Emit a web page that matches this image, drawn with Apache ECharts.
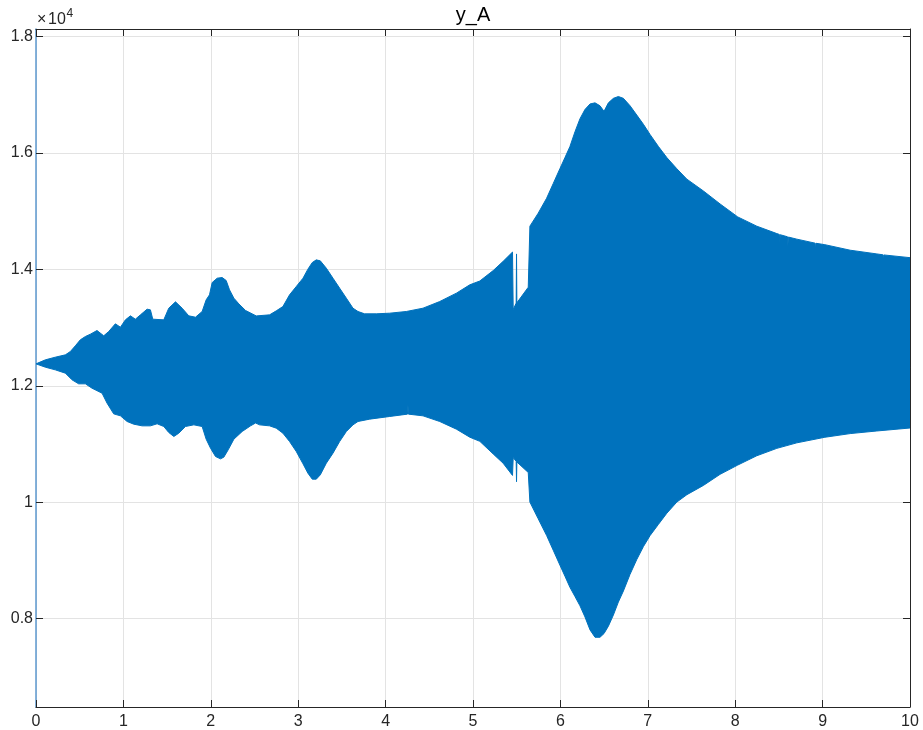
<!DOCTYPE html>
<html>
<head>
<meta charset="utf-8">
<title>y_A</title>
<script src="https://cdn.jsdelivr.net/npm/echarts@6/dist/echarts.min.js"></script>
<style>
  html, body { margin: 0; padding: 0; background: #ffffff; }
  #chart { width: 923px; height: 730px; }
</style>
</head>
<body>
<div id="chart"></div>
<script>
// Envelope of the y_A response (time in s): upper and lower bounds of the oscillation
const upperTimes = [
  0.000, 0.107, 0.221, 0.336, 0.393, 0.450, 0.507, 0.565, 0.622, 0.698,
  0.775, 0.832, 0.908, 0.966, 1.023, 1.080, 1.137, 1.195, 1.271, 1.309,
  1.336, 1.462, 1.519, 1.596, 1.672, 1.748, 1.825, 1.901, 1.947, 1.985,
  2.016, 2.073, 2.130, 2.176, 2.214, 2.264, 2.321, 2.398, 2.520, 2.672,
  2.749, 2.825, 2.901, 2.978, 3.055, 3.111, 3.161, 3.207, 3.253, 3.322,
  3.398, 3.474, 3.551, 3.627, 3.684, 3.760, 3.894, 4.047, 4.237, 4.428,
  4.619, 4.810, 4.963, 5.078, 5.231, 5.345, 5.452, 5.460, 5.494, 5.498,
  5.502, 5.632, 5.651, 5.746, 5.842, 5.918, 5.994, 6.052, 6.109, 6.167,
  6.224, 6.281, 6.339, 6.396, 6.453, 6.499, 6.549, 6.606, 6.663, 6.721,
  6.797, 6.874, 6.950, 7.027, 7.122, 7.218, 7.332, 7.447, 7.636, 7.827,
  8.029, 8.247, 8.476, 8.505, 8.510, 8.515, 8.598, 8.603, 8.608, 8.705,
  8.915, 8.920, 8.925, 9.026, 9.316, 9.621, 9.690, 9.695, 9.700, 10.000
];
const upperValues = [
  12376, 12445, 12491, 12531, 12588, 12686, 12789, 12846, 12886, 12949,
  12858, 12932, 13064, 13006, 13132, 13201, 13144, 13218, 13316, 13304,
  13144, 13132, 13333, 13442, 13333, 13201, 13178, 13276, 13476, 13562,
  13774, 13848, 13860, 13808, 13648, 13505, 13407, 13293, 13200, 13218,
  13287, 13361, 13562, 13705, 13848, 14003, 14117, 14163, 14146, 14020,
  13848, 13677, 13505, 13333, 13276, 13236, 13236, 13247, 13276, 13333,
  13447, 13591, 13734, 13800, 13979, 14138, 14297, 13310, 13420, 14265,
  13425, 13692, 14742, 14965, 15221, 15474, 15729, 15920, 16110, 16365,
  16588, 16747, 16842, 16861, 16811, 16715, 16861, 16938, 16970, 16938,
  16811, 16651, 16492, 16314, 16110, 15920, 15729, 15550, 15347, 15124,
  14901, 14742, 14615, 14600, 14450, 14595, 14560, 14400, 14555, 14519,
  14450, 14330, 14448, 14424, 14329, 14265, 14250, 14140, 14248, 14201
];
const lowerTimes = [
  0.000, 0.107, 0.221, 0.336, 0.412, 0.488, 0.565, 0.641, 0.756, 0.813,
  0.889, 0.966, 1.042, 1.118, 1.214, 1.309, 1.386, 1.462, 1.519, 1.577,
  1.634, 1.710, 1.806, 1.901, 1.947, 1.997, 2.054, 2.111, 2.149, 2.199,
  2.264, 2.359, 2.455, 2.512, 2.558, 2.672, 2.749, 2.825, 2.901, 2.978,
  3.055, 3.111, 3.161, 3.207, 3.253, 3.322, 3.398, 3.474, 3.551, 3.627,
  3.684, 3.818, 4.047, 4.250, 4.256, 4.262, 4.428, 4.619, 4.810, 4.963,
  5.078, 5.231, 5.345, 5.452, 5.460, 5.494, 5.498, 5.502, 5.632, 5.651,
  5.746, 5.842, 5.918, 5.994, 6.052, 6.109, 6.167, 6.224, 6.281, 6.339,
  6.396, 6.453, 6.499, 6.549, 6.606, 6.663, 6.721, 6.797, 6.874, 6.950,
  7.027, 7.122, 7.218, 7.332, 7.447, 7.636, 7.827, 8.029, 8.247, 8.476,
  8.705, 9.026, 9.316, 9.621, 10.000
];
const lowerValues = [
  12376, 12319, 12273, 12216, 12102, 12033, 12033, 11958, 11872, 11701,
  11517, 11483, 11386, 11340, 11311, 11311, 11346, 11300, 11197, 11128,
  11185, 11300, 11328, 11300, 11082, 10927, 10784, 10744, 10773, 10899,
  11082, 11214, 11311, 11360, 11328, 11311, 11271, 11185, 11042, 10870,
  10658, 10498, 10395, 10395, 10469, 10670, 10842, 11042, 11214, 11328,
  11386, 11426, 11472, 11512, 11672, 11512, 11483, 11386, 11254, 11116,
  11045, 10828, 10669, 10459, 10765, 10700, 10351, 10690, 10510, 10001,
  9715, 9428, 9174, 8919, 8728, 8537, 8378, 8219, 8028, 7805,
  7678, 7678, 7742, 7869, 8060, 8283, 8474, 8760, 9015, 9237,
  9428, 9619, 9810, 10001, 10128, 10287, 10478, 10637, 10797, 10924,
  11019, 11115, 11178, 11223, 11274
];

// Axis ticks
const xTicks = [0, 1, 2, 3, 4, 5, 6, 7, 8, 9, 10];
const yTicks = [8000, 10000, 12000, 14000, 16000, 18000];

const BLUE = '#0072BD';
const AXIS = '#262626';
const GRID = '#e3e3e3';
const FONT = "'Liberation Sans', Arial, Helvetica, sans-serif";

const fmtY = v => String(+(v / 10000).toFixed(1));

const chart = echarts.init(document.getElementById('chart'), null, { renderer: 'canvas' });

const yCommon = { type: 'value', min: 6480, max: 18130 };

// The oscillation band: upper envelope forward, lower envelope back
function renderBand(params, api) {
  const pts = [];
  for (let i = 0; i < upperTimes.length; i++) {
    pts.push(api.coord([upperTimes[i], upperValues[i]]));
  }
  for (let i = lowerTimes.length - 1; i >= 0; i--) {
    pts.push(api.coord([lowerTimes[i], lowerValues[i]]));
  }
  return {
    type: 'polygon',
    shape: { points: pts },
    style: { fill: BLUE, stroke: BLUE, lineWidth: 1, lineJoin: 'miter' }
  };
}

chart.setOption({
  animation: false,
  backgroundColor: '#ffffff',
  grid: { left: 36, right: 13, top: 29, bottom: 23, containLabel: false },
  graphic: [
    {
      type: 'text', x: 473, y: 15,
      style: { text: 'y_A', font: '20px ' + FONT, fill: '#000000', align: 'center', verticalAlign: 'middle' }
    },
    {
      type: 'text', x: 37, y: 20,
      style: { text: '×', font: '16px ' + FONT, fill: AXIS, align: 'left', verticalAlign: 'middle' }
    },
    {
      type: 'text', x: 48, y: 20,
      style: { text: '10', font: '16px ' + FONT, fill: AXIS, align: 'left', verticalAlign: 'middle' }
    },
    {
      type: 'text', x: 66.5, y: 14,
      style: { text: '4', font: '12px ' + FONT, fill: AXIS, align: 'left', verticalAlign: 'middle' }
    }
  ],
  xAxis: [
    {
      type: 'value', position: 'bottom', min: 0, max: 10, interval: 1,
      axisLine: { show: true, onZero: false, lineStyle: { color: AXIS, width: 1 } },
      axisTick: { show: true, inside: true, length: 7, lineStyle: { color: AXIS } },
      axisLabel: { show: true, fontSize: 16, fontFamily: FONT, color: AXIS, margin: 7,
                   customValues: xTicks, formatter: v => String(v) },
      splitLine: { show: true, lineStyle: { color: GRID, width: 1 } }
    },
    {
      type: 'value', position: 'top', min: 0, max: 10, interval: 1,
      axisLine: { show: true, onZero: false, lineStyle: { color: AXIS, width: 1 } },
      axisTick: { show: true, inside: true, length: 7, lineStyle: { color: AXIS } },
      axisLabel: { show: false },
      splitLine: { show: false }
    }
  ],
  yAxis: [
    Object.assign({}, yCommon, {
      position: 'left',
      axisLine: { show: true, onZero: false, lineStyle: { color: '#5d98cf', width: 1.5 } },
      axisTick: { show: true, inside: true, length: 7, customValues: yTicks, lineStyle: { color: AXIS } },
      axisLabel: { show: true, fontSize: 16, fontFamily: FONT, color: AXIS, margin: 3,
                   customValues: yTicks, formatter: fmtY },
      splitLine: { show: true, lineStyle: { color: GRID, width: 1 } }
    }),
    Object.assign({}, yCommon, {
      position: 'right',
      axisLine: { show: true, onZero: false, lineStyle: { color: AXIS, width: 1 } },
      axisTick: { show: true, inside: true, length: 7, customValues: yTicks, lineStyle: { color: AXIS } },
      axisLabel: { show: false },
      splitLine: { show: false }
    })
  ],
  series: [
    {
      name: 'y_A',
      type: 'custom',
      xAxisIndex: 0, yAxisIndex: 0,
      coordinateSystem: 'cartesian2d',
      renderItem: renderBand,
      data: [[upperTimes[0], upperValues[0]]],
      clip: true,
      z: 3
    }
  ]
});
</script>
</body>
</html>
